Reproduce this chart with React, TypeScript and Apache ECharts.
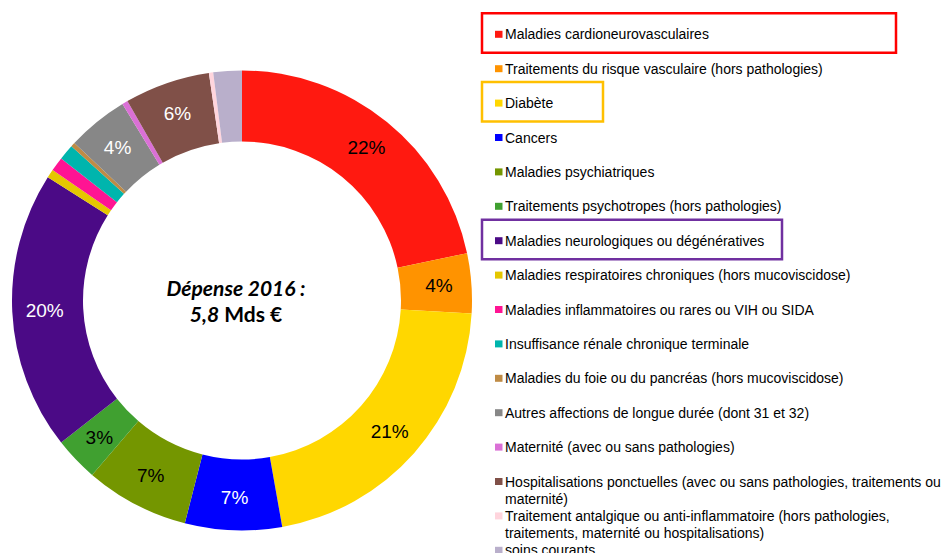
import React, { useEffect, useRef } from "react";
import * as echarts from "echarts";

const categories = [
  "Maladies cardioneurovasculaires",
  "Traitements du risque vasculaire (hors pathologies)",
  "Diabète",
  "Cancers",
  "Maladies psychiatriques",
  "Traitements psychotropes (hors pathologies)",
  "Maladies neurologiques ou dégénératives",
  "Maladies respiratoires chroniques (hors mucoviscidose)",
  "Maladies inflammatoires ou rares ou VIH ou SIDA",
  "Insuffisance rénale chronique terminale",
  "Maladies du foie ou du pancréas (hors mucoviscidose)",
  "Autres affections de longue durée (dont 31 et 32)",
  "Maternité (avec ou sans pathologies)",
  "Hospitalisations ponctuelles (avec ou sans pathologies, traitements ou maternité)",
  "Traitement antalgique ou anti-inflammatoire (hors pathologies, traitements, maternité ou hospitalisations)",
  "soins courants",
];

// share of spending, %
const shares = [21.7, 4.2, 21.3, 6.8, 7.3, 3.1, 19.6, 0.6, 1.0, 1.1, 0.3, 4.3, 0.4, 6.0, 0.3, 2.0];

const colors = [
  "#FF1910", "#FF9300", "#FFD700", "#0000FF", "#749600", "#40A030", "#4B0A86", "#E5C700",
  "#FF1493", "#00B5AD", "#BF8B45", "#878787", "#DA70D6", "#805048", "#FFD5DD", "#B9AFCB",
];

const whiteLabelIdx = [3, 6, 11, 13];
const highlighted = [
  { index: 0, width: 414, color: "#FF0000" },
  { index: 2, width: 121, color: "#FFC000" },
  { index: 6, width: 300, color: "#7030A0" },
];

const centerLine1 = "Dépense 2016 :";
const centerValue = "5,8";
const centerUnit = " Mds €";

export default function App() {
  const ref = useRef<HTMLDivElement>(null);
  useEffect(() => {
    document.body.style.margin = "0";
    const chart = echarts.init(ref.current!, undefined, { renderer: "svg" });
    const rowY = (i: number) => 34.3 + 34.4 * i;
    const legendFont = "14px 'Liberation Sans', Arial, sans-serif";
    const graphic: any[] = [];
    categories.forEach((name, i) => {
      const y = rowY(i);
      graphic.push({
        type: "rect",
        shape: { x: 495, y: y - 3.5, width: 7.5, height: 7 },
        style: { fill: colors[i] },
      });
      graphic.push({
        type: "text",
        x: 505,
        y: y - 8.5,
        style: {
          text: name,
          font: legendFont,
          fill: "#000",
          width: 447,
          overflow: "break",
          lineHeight: 17,
          align: "left",
          verticalAlign: "top",
        },
      });
    });
    highlighted.forEach((h) => {
      const y = rowY(h.index);
      graphic.push({
        type: "rect",
        shape: { x: 482, y: y - 21, width: h.width, height: 39.5 },
        style: { fill: "none", stroke: h.color, lineWidth: 2.5 },
      });
    });
    graphic.push({
      type: "text",
      x: 236,
      y: 300,
      style: {
        text: `{a|${centerLine1}}\n{a|${centerValue}}{b|${centerUnit}}`,
        align: "center",
        verticalAlign: "middle",
        rich: {
          a: { fontFamily: "Lato", fontWeight: "bold", fontStyle: "italic", fontSize: 21, lineHeight: 26, fill: "#000" },
          b: { fontFamily: "Lato", fontWeight: "bold", fontSize: 21, lineHeight: 26, fill: "#000" },
        },
      },
    });

    chart.setOption({
      animation: false,
      series: [
        {
          type: "pie",
          center: [242, 300.5],
          radius: [159, 230],
          startAngle: 90,
          clockwise: true,
          avoidLabelOverlap: false,
          label: {
            show: true,
            position: "inside",
            fontFamily: "'Liberation Sans', Arial, sans-serif",
            fontSize: 19,
            formatter: (p: any) => (p.value >= 3 ? Math.round(p.value) + "%" : ""),
          },
          labelLine: { show: false },
          itemStyle: { borderWidth: 0 },
          emphasis: { disabled: true },
          data: categories.map((name, i) => ({
            name,
            value: shares[i],
            itemStyle: { color: colors[i] },
            label: { color: whiteLabelIdx.includes(i) ? "#FFFFFF" : "#000000" },
          })),
        },
      ],
      graphic,
    });
    return () => chart.dispose();
  }, []);
  return <div ref={ref} style={{ width: 950, height: 553 }} />;
}
